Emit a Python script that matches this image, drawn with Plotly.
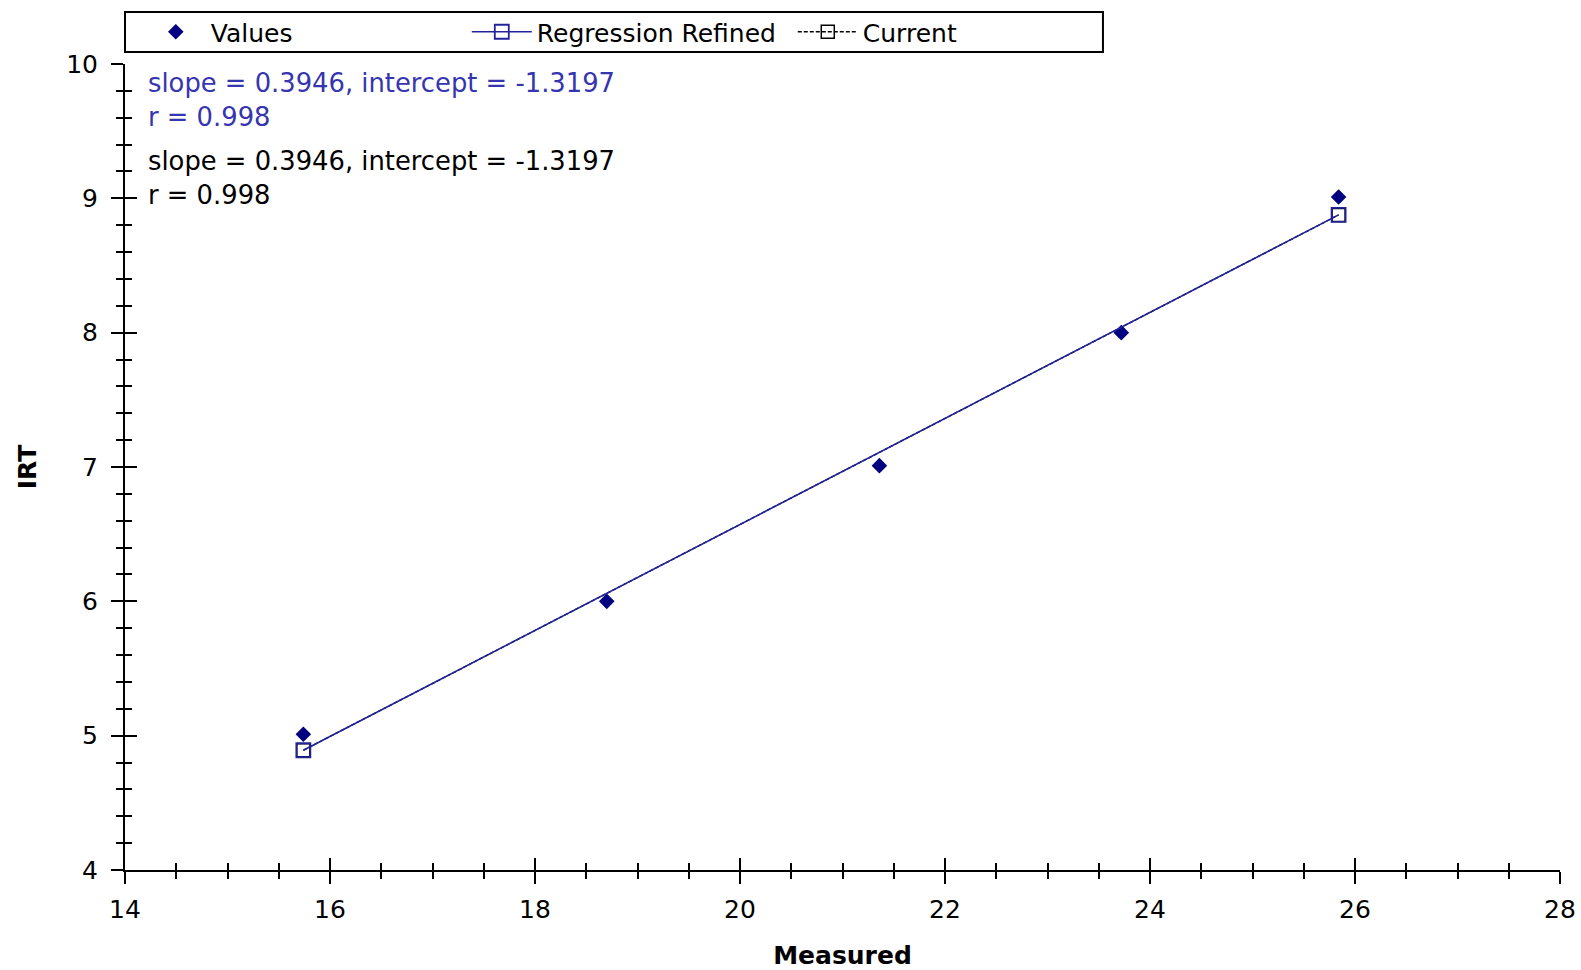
import plotly.graph_objects as go

# ---- data ----
measured = [15.74, 18.70, 21.36, 23.72, 25.84]
irt = [5.01, 6.0, 7.01, 8.0, 9.01]
slope = 0.3946
intercept = -1.3197
r_value = 0.998
reg_x = [min(measured), max(measured)]
reg_y = [slope * v + intercept for v in reg_x]
x_ticks = [14, 16, 18, 20, 22, 24, 26, 28]
y_ticks = [4, 5, 6, 7, 8, 9, 10]

FONT = "DejaVu Sans"
FS = 25
BLUE_TXT = "#3535b0"
NAVY = "#000080"
LINE_BLUE = "#22229a"

fig = go.Figure()

fig.add_trace(go.Scatter(
    x=reg_x, y=reg_y, mode="lines+markers", name="Current", legendrank=3,
    line=dict(color="black", width=1.4, dash="4px,2px"),
    marker=dict(symbol="square-open", size=13, color="black", line=dict(width=1.5)),
))
fig.add_trace(go.Scatter(
    x=measured, y=irt, mode="markers", name="Values", legendrank=1,
    marker=dict(symbol="diamond", size=12, color=NAVY),
))
fig.add_trace(go.Scatter(
    x=reg_x, y=reg_y, mode="lines+markers", name="Regression Refined", legendrank=2,
    line=dict(color=LINE_BLUE, width=1.6),
    marker=dict(symbol="square-open", size=14, color=LINE_BLUE, line=dict(width=1.8)),
))

axis_common = dict(
    showline=True, linecolor="black", linewidth=2,
    showgrid=False, zeroline=False, automargin=False,
    tickcolor="black", tickwidth=2,
)

fig.update_layout(
    width=1581, height=970,
    margin=dict(l=125, r=21, t=64, b=100, autoexpand=False),
    paper_bgcolor="white", plot_bgcolor="white",
    font=dict(family=FONT, size=FS, color="black"),
    showlegend=True,
    legend=dict(
        orientation="h", x=0.011, y=1.0397, xanchor="left", yanchor="middle",
        traceorder="normal", entrywidth=251, itemwidth=60, bgcolor="rgba(0,0,0,0)",
        font=dict(family=FONT, size=FS, color="black"),
    ),
    xaxis=dict(
        range=[14, 28], tickvals=x_ticks, ticks="outside", ticklen=12,
        minor=dict(dtick=0.5, ticks="outside", ticklen=7, tickcolor="black", tickwidth=2),
        ticklabelstandoff=4,
        title=dict(text="<b>Measured</b>", standoff=24, font=dict(size=FS)),
        **axis_common,
    ),
    yaxis=dict(
        range=[4, 10], tickvals=y_ticks, ticks="outside", ticklen=12,
        minor=dict(dtick=0.2, ticks="outside", ticklen=7, tickcolor="black", tickwidth=2),
        ticklabelstandoff=8,
        title=dict(text="<b>IRT</b>", standoff=22, font=dict(size=FS)),
        **axis_common,
    ),
    xaxis2=dict(
        range=[14, 28], tickvals=x_ticks, ticks="inside", ticklen=12,
        minor=dict(dtick=0.5, ticks="inside", ticklen=7, tickcolor="black", tickwidth=2),
        showticklabels=False, overlaying="x", anchor="y2", side="bottom",
        **axis_common,
    ),
    yaxis2=dict(
        range=[4, 10], tickvals=y_ticks, ticks="inside", ticklen=12,
        minor=dict(dtick=0.2, ticks="inside", ticklen=7, tickcolor="black", tickwidth=2),
        showticklabels=False, overlaying="y", anchor="x2", side="left",
        **axis_common,
    ),
)

# legend frame
fig.add_shape(type="rect", xref="paper", yref="paper",
              x0=0.0, x1=0.6815, y0=1.0149, y1=1.0645,
              line=dict(color="black", width=2), fillcolor="rgba(0,0,0,0)")

# placeholder trace so the overlay axes render
fig.add_trace(go.Scatter(x=[None], y=[None], xaxis="x2", yaxis="y2",
                         showlegend=False, hoverinfo="skip"))

lines = [
    (f"slope = {slope:.4f}, intercept = {intercept:.4f}", BLUE_TXT, 9.859),
    (f"r = {r_value:.3f}", BLUE_TXT, 9.605),
    (f"slope = {slope:.4f}, intercept = {intercept:.4f}", "black", 9.278),
    (f"r = {r_value:.3f}", "black", 9.025),
]
for txt, col, yy in lines:
    fig.add_annotation(x=14.2, y=yy, xref="x", yref="y", text=txt, showarrow=False,
                       xanchor="left", yanchor="middle",
                       font=dict(family=FONT, size=25.8, color=col))

fig.write_html("out.html")
